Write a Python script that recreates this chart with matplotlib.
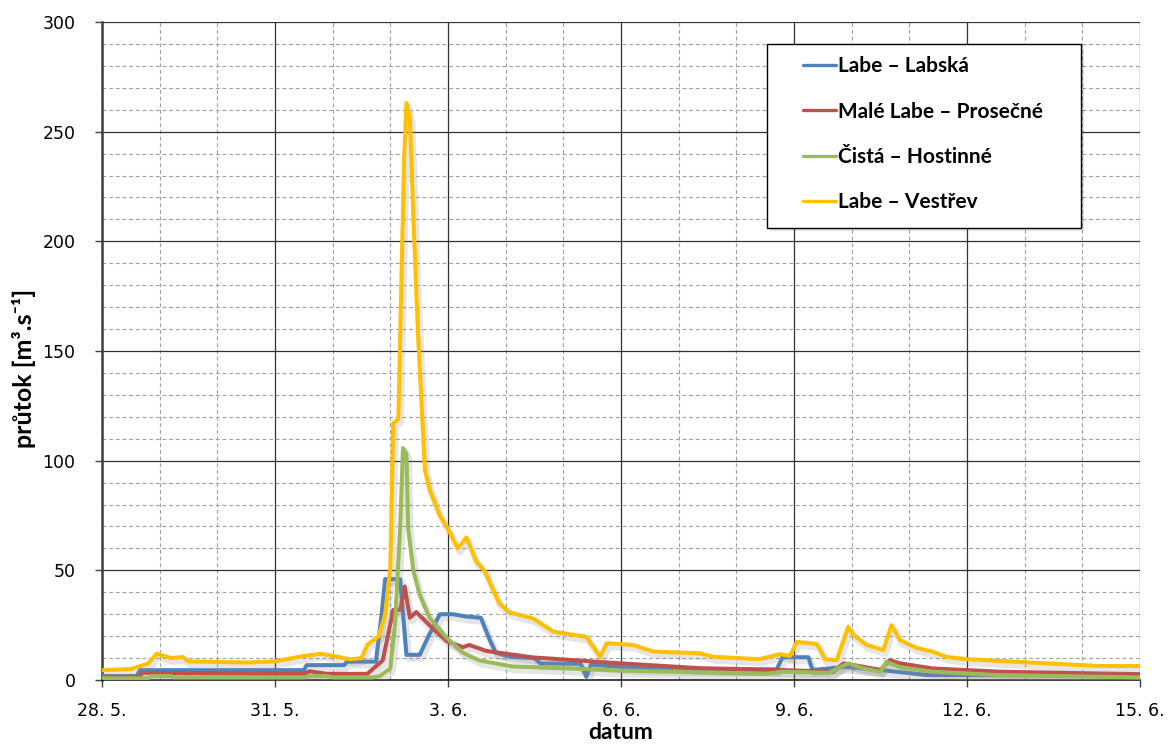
import matplotlib.pyplot as plt
import matplotlib.patheffects as pe
from matplotlib.patches import Rectangle
from matplotlib.ticker import MultipleLocator

# days counted from 28. 5.
tick_days = [0, 3, 6, 9, 12, 15, 18]
tick_labels = ["28. 5.", "31. 5.", "3. 6.", "6. 6.", "9. 6.", "12. 6.", "15. 6."]

labska_t = [0, 0.6, 0.66, 3.5, 3.55, 4.2, 4.25, 4.75, 4.85, 4.91, 5.17, 5.28, 5.51, 5.68,
            5.86, 6.09, 6.3, 6.57, 6.72, 6.83, 7.1, 7.5, 7.6, 8.3, 8.4, 8.48, 9.3, 10.0,
            11.0, 11.7, 11.8, 12.25, 12.32, 12.9, 13.5, 14.3, 18]
labska_q = [1.8, 1.8, 4.5, 4.5, 6.8, 6.8, 8.4, 8.4, 30, 46, 46, 11.5, 11.5, 21,
            30, 30, 29, 28.4, 18.6, 12.4, 10.5, 10, 7.6, 7.4, 1.5, 7, 5.4, 5.0,
            4.8, 4.8, 10.4, 10.4, 4.6, 6, 4.6, 2.3, 2.0]

prosecne_t = [0, 0.65, 0.7, 2.0, 3.5, 3.6, 3.9, 4.6, 4.87, 5.05, 5.17, 5.25, 5.34, 5.45,
              5.68, 5.97, 6.26, 6.37, 6.66, 7.0, 7.48, 9.0, 10.37, 11.5, 12.68, 12.86,
              13.0, 13.5, 13.66, 13.84, 14.4, 15.57, 17.3, 18]
prosecne_q = [1.5, 1.5, 3.3, 3.0, 2.8, 4, 2.8, 2.8, 9, 32, 32, 42.6, 28.4, 31,
              25, 17.8, 15, 16, 13.3, 12, 10.3, 7.6, 5.4, 4.8, 3.8, 7.6,
              7, 4.6, 9.1, 7.6, 5.3, 3.8, 3.0, 2.7]

hostinne_t = [0, 0.8, 0.85, 1.2, 1.25, 3.5, 3.6, 3.9, 4.0, 4.7, 4.82, 4.93, 5.0, 5.08,
              5.17, 5.22, 5.28, 5.31, 5.40, 5.51, 5.68, 5.97, 6.26, 6.55, 7.12, 8.0,
              9.0, 10.0, 11.5, 11.8, 12.6, 12.94, 13.2, 13.5, 13.6, 13.84, 14.4, 15.5, 18]
hostinne_q = [0.8, 0.8, 1.8, 1.8, 1.2, 1.2, 1.8, 1.8, 1.2, 1.2, 1.8, 4, 5.3, 25,
              69, 105.7, 103, 69, 50, 39, 28.4, 19.5, 12.4, 8.9, 6.2, 5.4,
              4.3, 3.8, 2.8, 3.8, 3.3, 7.6, 5.3, 3.8, 8.3, 5.8, 3.8, 2.3, 1.2]

vestrev_t = [0, 0.5, 0.8, 0.95, 1.2, 1.4, 1.5, 2.5, 3.0, 3.5, 3.8, 4.0, 4.3, 4.5, 4.6,
             4.8, 4.91, 5.0, 5.05, 5.14, 5.18, 5.24, 5.28, 5.34, 5.40, 5.48, 5.60, 5.68,
             5.86, 6.0, 6.17, 6.32, 6.49, 6.63, 6.89, 7.06, 7.25, 7.48, 7.6, 7.83, 8.4,
             8.64, 8.75, 9.21, 9.56, 10.37, 10.6, 11.4, 11.76, 11.93, 12.05, 12.4, 12.54,
             12.74, 12.94, 13.03, 13.26, 13.55, 13.69, 13.84, 14.13, 14.41, 14.65, 15.0,
             16.15, 17.3, 18]
vestrev_q = [4.5, 5, 7.5, 12, 10, 10.5, 8.5, 8, 8.5, 11, 12, 11, 9.5, 10, 16,
             20, 30, 51, 117, 119, 167, 238, 263, 256, 211, 158, 96, 87,
             75, 69, 60, 65, 54, 50, 35, 31, 29.6, 28, 26, 22, 19.7,
             10.6, 16.8, 16, 13, 12.2, 10.6, 9.5, 11.8, 11, 17.4, 16.4, 9.5,
             9, 24.3, 20.5, 16, 13.7, 25, 18.2, 14.6, 12.9, 10.5, 9.5,
             7.9, 6.4, 6.4]

series = [
    ("Labe – Labská", labska_t, labska_q, "#4F81BD"),
    ("Malé Labe – Prosečné", prosecne_t, prosecne_q, "#C0504D"),
    ("Čistá – Hostinné", hostinne_t, hostinne_q, "#9BBB59"),
    ("Labe – Vestřev", vestrev_t, vestrev_q, "#FFC000"),
]

bold_fonts = ["Lato", "DejaVu Sans"]

fig = plt.figure(figsize=(11.68, 7.45), dpi=100)
ax = fig.add_axes([0.0873, 0.0872, 0.8887, 0.8833])

shadow = [pe.SimpleLineShadow(offset=(1.5, -2.5), shadow_color="0.55", alpha=0.22, linewidth=5),
          pe.Normal()]
for name, t, q, col in series:
    ax.plot(t, q, color=col, lw=2.9, label=name, solid_joinstyle="round",
            solid_capstyle="round", path_effects=shadow, zorder=3)

ax.set_xlim(0, 18)
ax.set_ylim(0, 300)
ax.set_xticks(tick_days)
ax.set_xticklabels(tick_labels)
ax.xaxis.set_minor_locator(MultipleLocator(1))
ax.yaxis.set_major_locator(MultipleLocator(50))
ax.yaxis.set_minor_locator(MultipleLocator(10))

ax.grid(which="major", color="#303030", lw=0.9, ls="-")
ax.grid(which="minor", color="#a0a0a0", lw=0.8, ls=(0, (3.5, 2.5)))
ax.set_axisbelow(True)

for s in ["top", "right"]:
    ax.spines[s].set_visible(False)
ax.spines["left"].set_color("#404040")
ax.spines["left"].set_linewidth(1.8)
ax.spines["bottom"].set_color("#202020")
ax.spines["bottom"].set_linewidth(1.2)

ax.tick_params(which="major", direction="out", length=5, width=1, color="#404040",
               labelsize=12.5)
ax.tick_params(axis="x", pad=11)
ax.tick_params(axis="y", pad=14)
ax.tick_params(which="minor", length=0)

ax.set_ylabel("průtok [m³.s⁻¹]", fontsize=18, fontweight="bold", family=bold_fonts)
ax.yaxis.set_label_coords(-0.064, 0.473)
ax.set_xlabel("datum", fontsize=16.5, fontweight="bold", family=bold_fonts)
ax.xaxis.set_label_coords(0.5, -0.064)

# legend box drawn separately so the side padding can be wider than the top one
box = Rectangle((0.641, 0.687), 0.302, 0.2796, transform=ax.transAxes, facecolor="white",
                edgecolor="black", lw=1.0, zorder=5,
                path_effects=[pe.SimplePatchShadow(offset=(2, -2), alpha=0.15), pe.Normal()])
ax.add_patch(box)
leg = ax.legend(loc="upper left", bbox_to_anchor=(0.675, 0.948), borderaxespad=0,
                frameon=False, prop={"family": bold_fonts, "weight": "bold", "size": 15},
                handlelength=1.6, handletextpad=0.1, labelspacing=1.22, borderpad=0)
leg.set_zorder(6)
for h in leg.get_lines():
    h.set_linewidth(2.4)
    h.set_path_effects([])

fig.savefig("out.png", dpi=100)
